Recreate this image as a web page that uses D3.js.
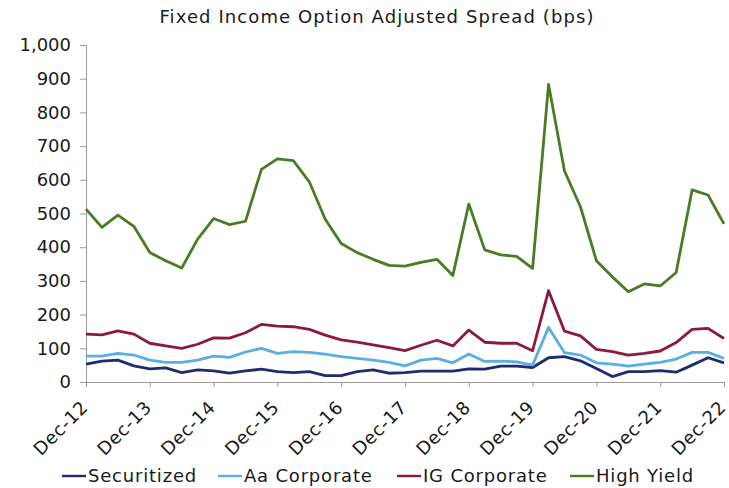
<!DOCTYPE html>
<html>
<head>
<meta charset="utf-8">
<script src="https://cdn.jsdelivr.net/npm/d3@7"></script>
<style>
  body { margin: 0; background: #fff; }
  text { font-family: "DejaVu Sans", Verdana, sans-serif; fill: #1a1a1a; }
</style>
</head>
<body>
<div id="chart"></div>
<script>
// quarterly, Dec-12 .. Dec-22
var quarters = [];
for (var y = 12; y <= 22; y++) {
  ["Dec"].concat(y < 22 ? ["Mar", "Jun", "Sep"] : []).forEach(function(m, k) {
    quarters.push((k === 0 ? "Dec-" + y : m + "-" + (y + 1)));
  });
}
var yearLabels = ["Dec-12","Dec-13","Dec-14","Dec-15","Dec-16","Dec-17","Dec-18","Dec-19","Dec-20","Dec-21","Dec-22"];
var yTicks = [0,100,200,300,400,500,600,700,800,900,1000];

var securitized = [53,62,65,48,39,42,28,36,33,26,33,38,31,28,31,19,19,31,36,26,28,32,32,32,39,38,47,47,43,72,75,63,40,16,31,31,34,29,50,72,57];
var aaCorporate = [77,77,85,80,65,58,58,65,77,73,89,100,85,90,88,83,75,70,65,58,48,65,70,57,83,61,62,60,50,162,87,80,57,53,47,53,58,68,88,88,70];
var igCorporate = [142,140,152,142,115,107,100,112,131,130,146,171,166,164,156,139,125,118,110,102,93,109,124,107,154,118,115,115,93,271,151,137,97,90,80,85,92,117,156,159,129];
var highYield = [513,459,495,462,384,360,338,424,485,467,477,631,662,657,594,483,411,384,364,346,344,355,364,316,528,392,377,373,337,883,626,520,360,312,268,291,285,325,570,555,469];

var seriesNames = ["Securitized","Aa Corporate","IG Corporate","High Yield"];
var seriesColors = ["#1f2d6e","#5aaee6","#8c1a40","#4a7b25"];
var seriesData = [securitized, aaCorporate, igCorporate, highYield];

var W = 729, H = 488;
var svg = d3.select("#chart").append("svg").attr("width", W).attr("height", H);

var x = d3.scalePoint().domain(quarters).range([86, 724]);
var yScale = d3.scaleLinear().domain([0, 1000]).range([382, 45]);

svg.append("text").attr("x", 377).attr("y", 23).attr("text-anchor", "middle")
  .style("font-size", "18px").style("letter-spacing", "1.1px")
  .text("Fixed Income Option Adjusted Spread (bps)");

// y axis
var yAxis = svg.append("g").attr("transform", "translate(86,0)")
  .call(d3.axisLeft(yScale).tickValues(yTicks).tickSize(6).tickPadding(9).tickFormat(d3.format(",")));
yAxis.selectAll("text").style("font-size", "18px").attr("fill", "#1a1a1a");

// x axis
var xAxis = svg.append("g").attr("transform", "translate(0,382)")
  .call(d3.axisBottom(x).tickValues(yearLabels).tickSize(5));
xAxis.selectAll("text").style("font-size", "18px").style("letter-spacing", "0.6px")
  .attr("fill", "#1a1a1a").attr("text-anchor", "end")
  .attr("x", 0).attr("y", 0).attr("dy", "0.35em")
  .attr("transform", "translate(-2,22) rotate(-45)");

svg.selectAll(".domain, .tick line").attr("stroke", "#9a9a9a");

var line = d3.line().x(function(d, i) { return x(quarters[i]); }).y(function(d) { return yScale(d); });

seriesData.forEach(function(vals, s) {
  svg.append("path").datum(vals).attr("fill", "none")
    .attr("stroke", seriesColors[s]).attr("stroke-width", 2.8)
    .attr("stroke-linejoin", "round").attr("d", line);
});

// legend
var legendX = [62, 218, 397, 570];
var legend = svg.selectAll(".leg").data(seriesNames).enter().append("g")
  .attr("transform", function(d, i) { return "translate(" + legendX[i] + ",476)"; });
legend.append("line").attr("x1", 0).attr("x2", 24).attr("y1", 0).attr("y2", 0)
  .attr("stroke", function(d, i) { return seriesColors[i]; }).attr("stroke-width", 2.4);
legend.append("text").attr("x", 26).attr("y", 0).attr("dy", "0.35em")
  .style("font-size", "18px").style("letter-spacing", "0.8px").text(function(d) { return d; });
</script>
</body>
</html>
